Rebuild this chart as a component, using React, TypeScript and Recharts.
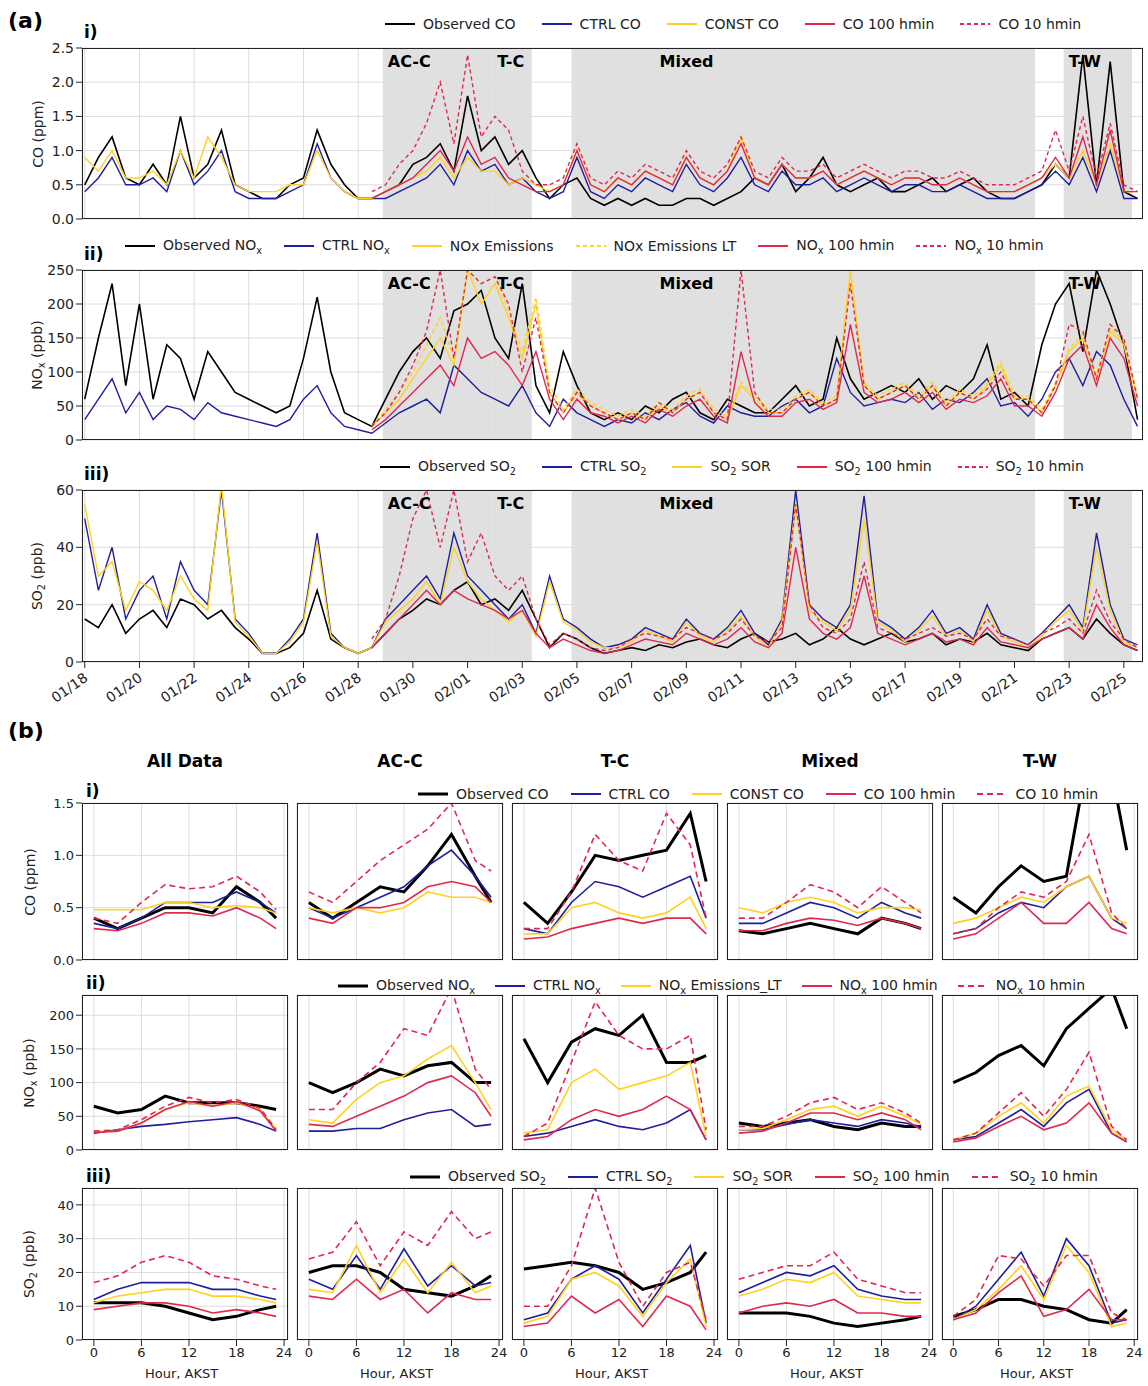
import React from "react";
import { LineChart, Line, XAxis, YAxis, CartesianGrid, ReferenceArea } from "recharts";

// ---------- panel (a): 12-hourly time series, day 0 = 01/18 ----------
const parse = (s: string) => s.trim().split(/[\s,]+/).map(Number);
const lead = 21; // model sensitivity runs start at index 21
const pad = (a: number[]) => [...Array(lead).fill(null), ...a];

const obsCO = parse("0.5 0.9 1.2 0.6 0.5 0.8 0.5 1.5 0.6 0.8 1.3 0.5 0.4 0.3 0.3 0.5 0.6 1.3 0.8 0.5 0.3 0.3 0.4 0.5 0.8 0.9 1.1 0.7 1.8 1.0 1.2 0.8 1.0 0.6 0.3 0.5 0.6 0.3 0.2 0.3 0.2 0.3 0.2 0.2 0.3 0.3 0.2 0.3 0.4 0.6 0.5 0.8 0.4 0.6 0.9 0.5 0.4 0.5 0.6 0.4 0.4 0.5 0.6 0.4 0.5 0.6 0.4 0.3 0.3 0.4 0.5 0.8 0.6 2.4 0.5 2.3 0.4 0.3");
const ctrlCO = parse("0.4 0.6 0.9 0.5 0.5 0.6 0.4 1.0 0.5 0.7 1.0 0.4 0.3 0.3 0.3 0.4 0.5 1.1 0.6 0.4 0.3 0.3 0.3 0.4 0.5 0.6 0.8 0.5 1.0 0.7 0.8 0.5 0.6 0.4 0.3 0.4 0.9 0.4 0.3 0.5 0.4 0.6 0.5 0.4 0.8 0.5 0.4 0.6 0.9 0.5 0.4 0.7 0.5 0.5 0.6 0.4 0.5 0.6 0.5 0.4 0.5 0.5 0.4 0.4 0.5 0.4 0.3 0.3 0.3 0.4 0.5 0.7 0.5 0.9 0.4 1.0 0.3 0.3");
const constCO = parse("0.9 0.7 1.0 0.6 0.6 0.7 0.5 1.0 0.6 1.2 0.9 0.5 0.4 0.4 0.4 0.5 0.5 1.0 0.6 0.4 0.3 0.3 0.4 0.5 0.6 0.7 0.9 0.6 0.9 0.7 0.7 0.5 0.6 0.5 0.4 0.5 1.0 0.5 0.4 0.6 0.5 0.7 0.6 0.5 0.9 0.6 0.5 0.7 1.2 0.6 0.5 0.8 0.6 0.6 0.7 0.5 0.6 0.7 0.6 0.5 0.6 0.6 0.5 0.5 0.6 0.5 0.4 0.4 0.4 0.5 0.6 0.8 0.6 1.0 0.5 1.1 0.4 0.4");
const h100CO = pad(parse("0.3 0.4 0.5 0.6 0.8 1.0 0.7 1.2 0.8 0.9 0.6 0.5 0.4 0.4 0.5 1.0 0.5 0.4 0.6 0.5 0.7 0.6 0.5 0.9 0.6 0.5 0.7 1.1 0.6 0.5 0.8 0.6 0.6 0.7 0.5 0.6 0.7 0.6 0.5 0.6 0.6 0.5 0.5 0.6 0.5 0.4 0.4 0.4 0.5 0.6 0.9 0.6 1.2 0.5 1.3 0.4 0.4"));
const h10CO = pad(parse("0.4 0.5 0.8 1.0 1.4 2.0 1.1 2.4 1.2 1.5 1.3 0.7 0.5 0.5 0.6 1.1 0.6 0.5 0.7 0.6 0.8 0.7 0.6 1.0 0.7 0.6 0.8 1.2 0.7 0.6 0.9 0.7 0.7 0.8 0.6 0.7 0.8 0.7 0.6 0.7 0.7 0.6 0.6 0.7 0.6 0.5 0.5 0.5 0.6 0.7 1.3 0.7 1.5 0.6 1.4 0.5 0.4"));

const obsNOx = parse("60 150 230 80 200 60 140 120 60 130 100 70 60 50 40 50 120 210 100 40 30 20 60 100 130 150 120 190 200 220 150 120 230 80 40 130 80 40 30 40 30 50 40 60 70 40 30 60 50 40 40 60 80 50 60 150 90 60 70 80 70 90 60 80 70 90 140 60 70 50 140 200 230 130 250 200 140 30");
const ctrlNOx = parse("30 60 90 40 70 30 50 45 30 55 40 35 30 25 20 30 60 80 40 20 15 10 25 40 50 60 40 110 90 70 60 50 80 40 20 60 40 30 20 30 25 40 30 45 55 35 25 50 40 35 35 50 60 40 50 120 70 50 55 60 55 70 45 60 55 70 90 50 55 35 60 100 120 80 130 110 60 20");
const emisNOx = pad(parse("20 40 60 90 120 150 110 250 200 230 180 120 200 70 40 70 50 40 30 40 30 50 40 60 70 40 30 80 60 40 40 60 70 50 60 250 80 60 70 80 60 80 50 70 60 80 110 60 60 40 80 130 150 90 160 140 60"));
const emisLtNOx = pad(parse("20 45 70 100 140 180 120 250 230 240 190 130 210 80 45 75 55 45 35 45 35 55 45 65 75 45 35 85 65 45 45 65 75 55 65 250 85 65 75 85 65 85 55 75 65 85 115 65 65 45 85 135 155 95 165 145 65"));
const h100NOx = pad(parse("15 30 50 70 90 110 80 150 120 130 110 80 130 60 30 60 40 35 25 35 25 45 35 50 60 35 25 130 55 35 35 55 60 45 55 170 70 55 60 70 55 70 45 60 55 65 90 50 50 35 70 120 140 80 150 120 50"));
const h10NOx = pad(parse("20 40 70 110 160 250 120 250 230 240 200 100 180 70 40 70 50 40 30 40 30 55 40 60 70 40 30 250 70 40 40 60 70 50 60 230 80 60 70 80 60 80 50 70 60 75 100 60 60 40 80 170 160 90 170 150 60"));

const obsSO2 = parse("15 12 20 10 15 18 12 22 20 15 18 12 8 3 3 5 10 25 8 5 3 5 10 15 18 22 20 25 28 20 22 18 25 15 5 10 8 5 3 4 5 4 6 5 7 8 6 5 8 10 7 8 10 6 8 12 8 6 8 10 7 8 10 6 8 7 10 6 5 4 8 10 12 8 15 10 6 4");
const ctrlSO2 = parse("50 25 40 15 25 30 15 35 25 20 60 15 10 3 3 8 15 45 10 5 3 5 15 20 25 30 22 45 30 25 20 15 20 10 30 15 12 8 5 6 8 12 10 8 15 10 8 12 18 10 6 15 60 20 15 12 20 58 15 12 8 12 18 10 12 8 20 10 8 6 10 15 20 12 45 20 8 6");
const sorSO2 = parse("55 30 35 18 28 25 18 30 22 18 62 14 9 3 3 7 14 42 9 5 3 5 14 18 22 28 20 40 28 22 18 14 18 9 28 14 11 7 5 5 7 11 9 7 14 9 7 11 16 9 5 14 55 18 14 11 18 50 14 11 7 11 16 9 11 7 18 9 7 5 9 14 18 11 40 18 7 5");
const h100SO2 = pad(parse("5 10 15 20 25 20 25 22 20 18 15 18 10 5 8 6 4 3 4 6 8 7 6 10 8 6 8 12 7 5 10 40 15 10 8 12 30 10 8 6 8 10 7 8 6 12 7 6 5 8 10 12 8 20 12 6 4"));
const h10SO2 = pad(parse("8 15 30 50 60 40 60 35 45 30 25 30 15 6 10 8 5 4 5 8 10 9 8 12 10 8 10 15 9 7 12 55 20 12 10 15 35 12 10 8 10 12 9 10 8 15 9 8 6 10 12 15 10 25 14 8 5"));

const regions = [
  { name: "AC-C", x1: 10.9, x2: 14.9 },
  { name: "T-C", x1: 14.9, x2: 16.35 },
  { name: "Mixed", x1: 17.8, x2: 34.75 },
  { name: "T-W", x1: 35.8, x2: 38.3 },
];
const dateTicks = Array.from({ length: 20 }, (_, i) => i * 2);

// ---------- panel (b): diurnal composites at hours ----------
const hours = [0, 3, 6, 9, 12, 15, 18, 21, 23];
const groups = ["All Data", "AC-C", "T-C", "Mixed", "T-W"];

const dCO = {
  obs: ["0.40 0.30 0.40 0.50 0.50 0.45 0.70 0.55 0.40", "0.55 0.40 0.55 0.70 0.65 0.90 1.20 0.80 0.55", "0.55 0.35 0.65 1.00 0.95 1.00 1.05 1.40 0.75", "0.28 0.25 0.30 0.35 0.30 0.25 0.40 0.35 0.30", "0.60 0.45 0.70 0.90 0.75 0.80 2.00 1.80 1.05"],
  ctrl: ["0.35 0.30 0.40 0.55 0.55 0.55 0.65 0.55 0.45", "0.50 0.40 0.50 0.60 0.70 0.90 1.05 0.80 0.60", "0.30 0.25 0.55 0.75 0.70 0.60 0.70 0.80 0.40", "0.35 0.35 0.45 0.55 0.50 0.40 0.55 0.45 0.40", "0.25 0.30 0.45 0.55 0.50 0.70 0.80 0.40 0.30"],
  third: ["0.48 0.48 0.48 0.55 0.55 0.50 0.52 0.50 0.45", "0.50 0.45 0.50 0.45 0.50 0.65 0.60 0.60 0.55", "0.25 0.25 0.50 0.55 0.45 0.40 0.45 0.60 0.30", "0.50 0.45 0.55 0.60 0.55 0.45 0.50 0.50 0.48", "0.35 0.40 0.50 0.60 0.55 0.70 0.80 0.40 0.35"],
  h100: ["0.30 0.28 0.35 0.45 0.45 0.42 0.50 0.40 0.30", "0.40 0.35 0.50 0.50 0.55 0.70 0.75 0.70 0.55", "0.20 0.22 0.30 0.35 0.40 0.35 0.40 0.40 0.25", "0.28 0.28 0.35 0.40 0.38 0.33 0.40 0.35 0.30", "0.20 0.25 0.40 0.55 0.35 0.35 0.55 0.30 0.25"],
  h10: ["0.40 0.35 0.55 0.72 0.68 0.70 0.80 0.65 0.48", "0.65 0.55 0.75 0.95 1.10 1.25 1.50 0.95 0.85", "0.30 0.30 0.65 1.20 0.95 0.85 1.40 1.10 0.40", "0.40 0.40 0.55 0.72 0.65 0.50 0.70 0.55 0.45", "0.25 0.30 0.50 0.65 0.60 0.75 1.20 0.45 0.30"],
};
const dNOx = {
  obs: ["65 55 60 80 70 70 70 65 60", "100 85 100 120 110 125 130 100 100", "165 100 160 180 170 200 130 130 140", "40 35 40 45 35 30 40 35 35", "100 115 140 155 125 180 210 240 180"],
  ctrl: ["25 30 35 38 42 45 48 38 28", "28 28 32 32 45 55 60 35 38", "20 25 35 45 35 30 40 60 15", "30 30 38 45 40 35 45 40 35", "15 20 40 60 35 70 90 25 12"],
  third: ["27 28 40 60 70 65 70 60 30", "45 40 75 100 110 135 155 100 60", "25 30 100 120 90 100 110 130 20", "30 32 45 60 65 50 65 50 38", "15 25 50 70 40 80 95 30 15"],
  h100: ["26 28 40 60 72 65 72 58 28", "38 35 50 65 80 100 110 85 50", "15 20 45 60 50 60 80 60 15", "25 28 40 55 55 45 55 45 30", "12 18 35 50 30 40 70 25 12"],
  h10: ["28 30 45 65 78 70 75 62 30", "60 60 100 130 180 170 240 120 90", "20 40 130 220 170 150 150 170 30", "35 35 50 70 78 60 70 55 40", "15 25 55 85 50 90 145 35 15"],
};
const dSO2 = {
  obs: ["11 11 11 10 8 6 7 9 10", "20 22 22 20 15 14 13 16 19", "21 22 23 22 20 15 17 20 26", "8 8 8 7 5 4 5 6 7", "7 9 12 12 10 9 6 5 9"],
  ctrl: ["12 15 17 17 17 15 15 13 12", "18 15 25 15 27 16 22 16 17", "6 8 18 22 18 8 18 28 5", "14 17 20 19 22 15 13 12 12", "6 10 18 26 13 30 22 5 6"],
  third: ["11 13 14 15 15 13 13 12 11", "15 14 28 14 24 14 23 14 16", "5 7 18 20 16 7 17 24 4", "13 15 18 17 20 13 12 11 11", "6 9 15 22 12 28 20 4 5"],
  h100: ["9 10 11 11 10 8 9 8 7", "13 12 18 12 15 8 14 12 12", "4 5 13 8 12 4 13 10 3", "8 10 11 10 12 8 8 7 7", "6 8 14 19 7 9 15 6 6"],
  h10: ["17 19 23 25 23 19 18 16 15", "24 26 35 22 32 28 38 30 32", "10 10 22 45 23 10 20 23 6", "18 20 22 22 26 18 16 14 14", "7 12 25 24 16 25 25 8 6"],
};

// ---------- styling ----------
const BLACK = "#000000";
const NAVY = "#1f1f9e";
const YELLOW = "#ffd21f";
const RED = "#e0284f";
const FONT = "DejaVu Sans, sans-serif";

type LineSpec = { key: string; color: string; dash?: string; width: number };
const aLines = (third: string, extraDashed = false): LineSpec[] => [
  { key: "obs", color: BLACK, width: 1.6 },
  { key: "ctrl", color: NAVY, width: 1.4 },
  { key: third, color: YELLOW, width: 1.4 },
  ...(extraDashed ? [{ key: "lt", color: YELLOW, dash: "4 3", width: 1.4 }] : []),
  { key: "h100", color: RED, width: 1.4 },
  { key: "h10", color: RED, dash: "4 3", width: 1.4 },
];
const bLines: LineSpec[] = [
  { key: "obs", color: BLACK, width: 3 },
  { key: "ctrl", color: NAVY, width: 1.6 },
  { key: "third", color: YELLOW, width: 1.6 },
  { key: "h100", color: RED, width: 1.6 },
  { key: "h10", color: RED, dash: "6 4", width: 1.6 },
];

const fmtDate = (d: number) => {
  const dt = new Date(2021, 0, 18 + d);
  return `${String(dt.getMonth() + 1).padStart(2, "0")}/${String(dt.getDate()).padStart(2, "0")}`;
};

const DateTick = (p: any) => {
  const { x, y, payload } = p;
  return (
    <text x={x + 4} y={y + 10} textAnchor="end" fontSize={14} fontFamily={FONT} fill="#222"
      transform={`rotate(-35 ${x + 4} ${y + 10})`}>
      {fmtDate(payload.value)}
    </text>
  );
};

const X = () => <sub style={{ fontSize: "0.7em" }}>x</sub>;
const Two = () => <sub style={{ fontSize: "0.7em" }}>2</sub>;

type LegItem = { label: React.ReactNode; color: string; dash?: string; width: number };
const Legend = ({ left, top, items, gap = 26 }: { left: number; top: number; items: LegItem[]; gap?: number }) => (
  <div style={{ position: "absolute", left, top, display: "flex", gap, fontFamily: FONT, fontSize: 14, color: "#222", alignItems: "center", whiteSpace: "nowrap" }}>
    {items.map((it, i) => (
      <div key={i} style={{ display: "flex", alignItems: "center", gap: 8 }}>
        <svg width={30} height={6}>
          <line x1={0} y1={3} x2={30} y2={3} stroke={it.color} strokeWidth={it.width} strokeDasharray={it.dash} />
        </svg>
        <span>{it.label}</span>
      </div>
    ))}
  </div>
);

const Abs = ({ left, top, children, style }: any) => (
  <div style={{ position: "absolute", left, top, fontFamily: FONT, ...style }}>{children}</div>
);

const YLabel = ({ x, y, children }: any) => (
  <div style={{ position: "absolute", left: x, top: y, transform: "translate(-50%,-50%) rotate(-90deg)", fontFamily: FONT, fontSize: 14, whiteSpace: "nowrap", color: "#222" }}>
    {children}
  </div>
);

const Frame = ({ left, top, width, height }: any) => (
  <div style={{ position: "absolute", left, top, width, height, border: "1px solid #222", boxSizing: "border-box", pointerEvents: "none" }} />
);

const PAD = 8; // room above/below plot for edge tick labels

// ---------- panel (a) row ----------
const A_LEFT = 82;
const A_W = 1061;
function TimePanel({ top, height, data, lines, domain, ticks, tickFmt, showX }: any) {
  const xh = showX ? 62 : 0;
  return (
    <div style={{ position: "absolute", left: 0, top: top - PAD }}>
      <LineChart width={A_LEFT + A_W} height={height + xh + 2 * PAD} data={data} margin={{ top: PAD, right: 0, left: 0, bottom: PAD }}>
        {regions.map((r) => (
          <ReferenceArea key={r.name} x1={r.x1} x2={r.x2} y1={domain[0]} y2={domain[1]} fill="#e0e0e0" fillOpacity={1} stroke="none" ifOverflow="hidden" />
        ))}
        <CartesianGrid stroke="#dcdcdc" />
        <XAxis dataKey="t" type="number" domain={[-0.1, 38.7]} ticks={dateTicks} hide={!showX} height={xh}
          tick={<DateTick />} tickLine={{ stroke: "#222" }} axisLine={false} interval={0} />
        <YAxis width={A_LEFT} domain={domain} ticks={ticks} allowDataOverflow tickFormatter={tickFmt} interval={0}
          tick={{ fontSize: 14, fontFamily: FONT, fill: "#222" }} axisLine={false} tickLine={{ stroke: "#222" }} />
        {lines.map((l: LineSpec) => (
          <Line key={l.key} dataKey={l.key} stroke={l.color} strokeWidth={l.width} strokeDasharray={l.dash}
            dot={false} isAnimationActive={false} connectNulls={false} />
        ))}
      </LineChart>
      <Frame left={A_LEFT} top={PAD} width={A_W} height={height} />
      {regions.map((r) => (
        <Abs key={r.name} left={A_LEFT + ((r.x1 + 0.1) / 38.8) * A_W + (r.name === "Mixed" ? 88 : 5)} top={PAD + 4} style={{ fontWeight: "bold", fontSize: 16 }}>
          {r.name}
        </Abs>
      ))}
    </div>
  );
}

// ---------- panel (b) small chart ----------
const B_LEFTS = [82, 297, 512, 727, 942];
const B_WS = [206, 206, 206, 206, 196];
const B_YW = 40;
const B_R = 10;
function DiurnalPanel({ col, top, height, data, domain, ticks, tickFmt, showX }: any) {
  const xh = showX ? 22 : 0;
  const w = B_WS[col];
  return (
    <div style={{ position: "absolute", left: B_LEFTS[col] - B_YW, top: top - PAD }}>
      <LineChart width={B_YW + w + B_R} height={height + xh + 2 * PAD} data={data} margin={{ top: PAD, right: B_R, left: 0, bottom: PAD }}>
        <CartesianGrid stroke="#dcdcdc" />
        <XAxis dataKey="h" type="number" domain={[-1.5, 24.5]} ticks={[0, 6, 12, 18, 24]} hide={!showX} height={xh} interval={0}
          tick={{ fontSize: 13, fontFamily: FONT, fill: "#222" }} axisLine={false} tickLine={{ stroke: "#222" }} />
        <YAxis width={B_YW} domain={domain} ticks={ticks} allowDataOverflow tickFormatter={tickFmt} interval={0}
          tick={col === 0 ? { fontSize: 13, fontFamily: FONT, fill: "#222" } : false}
          axisLine={false} tickLine={{ stroke: "#222" }} />
        {bLines.map((l) => (
          <Line key={l.key} dataKey={l.key} stroke={l.color} strokeWidth={l.width} strokeDasharray={l.dash}
            dot={false} isAnimationActive={false} />
        ))}
      </LineChart>
      <Frame left={B_YW} top={PAD} width={w} height={height} />
      {showX && (
        <Abs left={B_YW + w / 2 - 40} top={PAD + height + 26} style={{ fontSize: 13, color: "#222" }}>Hour, AKST</Abs>
      )}
    </div>
  );
}

const buildA = (cols: Record<string, (number | null)[]>) =>
  obsCO.map((_, i) => {
    const row: any = { t: i / 2 };
    Object.entries(cols).forEach(([k, v]) => (row[k] = v[i]));
    return row;
  });

const buildB = (src: Record<string, string[]>, g: number) =>
  hours.map((h, i) => {
    const row: any = { h };
    Object.entries(src).forEach(([k, v]) => (row[k] = parse(v[g])[i]));
    return row;
  });

export default function App() {
  const coData = buildA({ obs: obsCO, ctrl: ctrlCO, cst: constCO, h100: h100CO, h10: h10CO });
  const noxData = buildA({ obs: obsNOx, ctrl: ctrlNOx, emis: emisNOx, lt: emisLtNOx, h100: h100NOx, h10: h10NOx });
  const so2Data = buildA({ obs: obsSO2, ctrl: ctrlSO2, sor: sorSO2, h100: h100SO2, h10: h10SO2 });

  const bRows = [
    { src: dCO, top: 803, height: 157, domain: [0, 1.5], ticks: [0, 0.5, 1, 1.5], fmt: (v: number) => v.toFixed(1), label: "CO (ppm)" },
    { src: dNOx, top: 995, height: 155, domain: [0, 230], ticks: [0, 50, 100, 150, 200], fmt: (v: number) => String(v), label: <>NO<X /> (ppb)</> },
    { src: dSO2, top: 1188, height: 152, domain: [0, 45], ticks: [0, 10, 20, 30, 40], fmt: (v: number) => String(v), label: <>SO<Two /> (ppb)</> },
  ];

  return (
    <div style={{ position: "absolute", left: 0, top: 0, width: 1148, height: 1386, background: "#fff", overflow: "hidden" }}>
      {/* ---------------- (a) ---------------- */}
      <Abs left={8} top={8} style={{ fontWeight: "bold", fontSize: 22 }}>(a)</Abs>

      <Legend left={385} top={16} items={[
        { label: "Observed CO", color: BLACK, width: 2 },
        { label: "CTRL CO", color: NAVY, width: 2 },
        { label: "CONST CO", color: YELLOW, width: 2 },
        { label: "CO 100 hmin", color: RED, width: 2 },
        { label: "CO 10 hmin", color: RED, dash: "4 3", width: 2 },
      ]} />
      <TimePanel top={48} height={171} data={coData} lines={aLines("cst")} domain={[0, 2.5]}
        ticks={[0, 0.5, 1, 1.5, 2, 2.5]} tickFmt={(v: number) => v.toFixed(1)} />
      <Abs left={84} top={22} style={{ fontWeight: "bold", fontSize: 17 }}>i)</Abs>
      <YLabel x={38} y={134}>CO (ppm)</YLabel>

      <Legend left={125} top={237} items={[
        { label: <>Observed NO<X /></>, color: BLACK, width: 2 },
        { label: <>CTRL NO<X /></>, color: NAVY, width: 2 },
        { label: "NOx Emissions", color: YELLOW, width: 2 },
        { label: "NOx Emissions LT", color: YELLOW, dash: "4 3", width: 2 },
        { label: <>NO<X /> 100 hmin</>, color: RED, width: 2 },
        { label: <>NO<X /> 10 hmin</>, color: RED, dash: "4 3", width: 2 },
      ]} gap={22} />
      <TimePanel top={270} height={170} data={noxData} lines={aLines("emis", true)} domain={[0, 250]}
        ticks={[0, 50, 100, 150, 200, 250]} tickFmt={(v: number) => String(v)} />
      <Abs left={84} top={244} style={{ fontWeight: "bold", fontSize: 17 }}>ii)</Abs>
      <YLabel x={38} y={355}>NO<X /> (ppb)</YLabel>

      <Legend left={380} top={458} items={[
        { label: <>Observed SO<Two /></>, color: BLACK, width: 2 },
        { label: <>CTRL SO<Two /></>, color: NAVY, width: 2 },
        { label: <>SO<Two /> SOR</>, color: YELLOW, width: 2 },
        { label: <>SO<Two /> 100 hmin</>, color: RED, width: 2 },
        { label: <>SO<Two /> 10 hmin</>, color: RED, dash: "4 3", width: 2 },
      ]} />
      <TimePanel top={490} height={172} data={so2Data} lines={aLines("sor")} domain={[0, 60]}
        ticks={[0, 20, 40, 60]} tickFmt={(v: number) => String(v)} showX />
      <Abs left={84} top={464} style={{ fontWeight: "bold", fontSize: 17 }}>iii)</Abs>
      <YLabel x={38} y={576}>SO<Two /> (ppb)</YLabel>

      {/* ---------------- (b) ---------------- */}
      <Abs left={8} top={718} style={{ fontWeight: "bold", fontSize: 22 }}>(b)</Abs>
      {groups.map((g, c) => (
        <Abs key={g} left={B_LEFTS[c]} top={751} style={{ width: B_WS[c], textAlign: "center", fontWeight: "bold", fontSize: 17 }}>{g}</Abs>
      ))}

      {bRows.map((r, ri) =>
        groups.map((_, c) => (
          <DiurnalPanel key={`${ri}-${c}`} col={c} top={r.top} height={r.height} data={buildB(r.src as any, c)}
            domain={r.domain} ticks={r.ticks} tickFmt={r.fmt} showX={ri === 2} />
        ))
      )}
      {bRows.map((r, ri) => (
        <YLabel key={ri} x={30} y={r.top + r.height / 2}>{r.label}</YLabel>
      ))}
      {["i)", "ii)", "iii)"].map((s, ri) => (
        <Abs key={s} left={86} top={bRows[ri].top - 22} style={{ fontWeight: "bold", fontSize: 17 }}>{s}</Abs>
      ))}

      <Legend left={418} top={786} gap={22} items={[
        { label: "Observed CO", color: BLACK, width: 3 },
        { label: "CTRL CO", color: NAVY, width: 2 },
        { label: "CONST CO", color: YELLOW, width: 2 },
        { label: "CO 100 hmin", color: RED, width: 2 },
        { label: "CO 10 hmin", color: RED, dash: "6 4", width: 2 },
      ]} />
      <Legend left={338} top={977} gap={20} items={[
        { label: <>Observed NO<X /></>, color: BLACK, width: 3 },
        { label: <>CTRL NO<X /></>, color: NAVY, width: 2 },
        { label: <>NO<X /> Emissions_LT</>, color: YELLOW, width: 2 },
        { label: <>NO<X /> 100 hmin</>, color: RED, width: 2 },
        { label: <>NO<X /> 10 hmin</>, color: RED, dash: "6 4", width: 2 },
      ]} />
      <Legend left={410} top={1168} gap={22} items={[
        { label: <>Observed SO<Two /></>, color: BLACK, width: 3 },
        { label: <>CTRL SO<Two /></>, color: NAVY, width: 2 },
        { label: <>SO<Two /> SOR</>, color: YELLOW, width: 2 },
        { label: <>SO<Two /> 100 hmin</>, color: RED, width: 2 },
        { label: <>SO<Two /> 10 hmin</>, color: RED, dash: "6 4", width: 2 },
      ]} />
    </div>
  );
}
